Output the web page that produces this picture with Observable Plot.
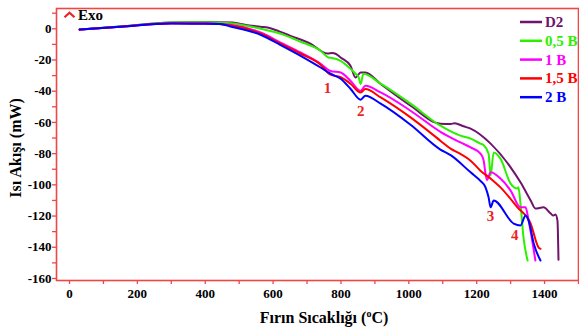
<!DOCTYPE html>
<html><head><meta charset="utf-8">
<script src="https://cdn.jsdelivr.net/npm/d3@7"></script>
<script src="https://cdn.jsdelivr.net/npm/@observablehq/plot@0.6"></script>
<style>
body{margin:0;background:#fff}
#chart{position:relative;width:579px;height:328px}
</style>
</head><body><div id="chart"></div>
<script>
const seriesNames = ["D2", "0,5 B", "1 B", "1,5 B", "2 B"];
const seriesColors = ["#6e136e", "#2cf000", "#ff00ff", "#ff0000", "#0000ff"];

const tempD2 = [30,150,300,400,480,520,563,592,622,651,710,760,775,784,799,828,843,858,872,917,1005,1093,1123,1135,1161,1182,1241,1300,1329,1359,1373,1397,1418,1426,1432,1438,1441];
const flowD2 = [-0.5,1.5,4,4.3,4,2.5,1.3,0.4,-2,-4.5,-9.6,-15.8,-15.5,-16,-18.4,-23.7,-31.2,-28,-28,-35.4,-49.3,-60.8,-61,-60.5,-62.5,-64,-73.6,-88.8,-98.4,-110,-115.2,-114.4,-118.4,-119.7,-119,-122.9,-148];

const temp05B = [30,150,300,400,475,563,622,681,740,763,770,799,828,843,852,858,866,917,1005,1093,1152,1182,1211,1220,1235,1241,1250,1270,1300,1320,1323,1329,1338,1350];
const flow05B = [-0.5,1.5,4,4.2,3.6,0,-3.2,-8.3,-14.1,-18.4,-18.6,-20.5,-25.6,-28.8,-31,-35.4,-28.8,-35.2,-48,-62.1,-68.5,-70.4,-73.6,-74.5,-80,-94,-79.2,-83.2,-99.2,-102.4,-101.6,-112,-133.8,-148.5];

const temp1B = [30,150,300,400,474,563,622,681,740,769,799,828,858,872,917,1005,1093,1152,1182,1211,1220,1230,1241,1270,1300,1329,1344,1353,1365,1373];
const flow1B = [-0.5,1.3,3.6,3.6,2.6,-2.4,-8.8,-15.2,-22.4,-27,-28,-33.3,-39.7,-36.5,-40.8,-52.5,-66,-72.8,-76,-80,-84,-97,-92,-96,-103.7,-114.4,-114.4,-122.9,-137.6,-148.5];

const temp15B = [30,150,300,400,474,563,622,681,740,769,799,828,858,872,917,1005,1093,1123,1152,1182,1211,1241,1270,1320,1359,1382,1388];
const flow15B = [-0.5,1.3,3.6,3.4,2.2,-3,-9.5,-16,-23,-29.4,-31,-35.2,-40.8,-38.6,-44,-56.8,-71.7,-76.8,-80.2,-84.5,-90.9,-96,-101.6,-114.4,-124.8,-140,-141];

const temp2B = [30,150,300,380,445,474,563,622,681,740,769,799,828,858,872,917,1005,1093,1123,1182,1211,1226,1235,1241,1250,1309,1329,1344,1353,1368,1388];
const flow2B = [-0.5,1.3,3.4,3.2,3.0,1.5,-3.8,-10.4,-17.3,-24.8,-28.8,-32,-38.4,-45.4,-42.9,-48,-61.5,-77.4,-81,-92,-97.5,-101.6,-108,-114.4,-110,-124.8,-126,-119.7,-122.9,-137.6,-148.5];

const xTicks = [0,100,200,300,400,500,600,700,800,900,1000,1100,1200,1300,1400,1500];
const xTickLabels = [0,200,400,600,800,1000,1200,1400];
const yTicks = [-160,-150,-140,-130,-120,-110,-100,-90,-80,-70,-60,-50,-40,-30,-20,-10,0,10];
const yTickLabels = [-160,-140,-120,-100,-80,-60,-40,-20,0];

const annoLabels = ["1","2","3","4"];
const annoTemp = [760, 858, 1241, 1312];
const annoFlow = [-37.8, -52.5, -120, -132.5];

const temps = [tempD2, temp05B, temp1B, temp15B, temp2B];
const flows = [flowD2, flow05B, flow1B, flow15B, flow2B];
const rows = [];
seriesNames.forEach((s, i) => temps[i].forEach((t, j) => rows.push({series: s, temp: t, flow: flows[i][j]})));
const annos = annoLabels.map((l, i) => ({label: l, temp: annoTemp[i], flow: annoFlow[i]}));

const frameColor = "#f04646";
const font = "'Liberation Serif', 'Times New Roman', serif";

const svg = Plot.plot({
  width: 579, height: 328,
  marginLeft: 56, marginRight: 1, marginTop: 8, marginBottom: 48,
  x: {domain: [-38.3, 1500]},
  y: {domain: [-161.3, 13]},
  color: {domain: seriesNames, range: seriesColors},
  style: {fontFamily: font, fontWeight: "bold", fontSize: "13px", color: "black", background: "white"},
  marks: [
    Plot.axisX({ticks: xTicks, tickFormat: d => xTickLabels.includes(d) ? String(d) : "", tickSize: 4, tickPadding: 4, stroke: frameColor, fill: "black", strokeWidth: 1.3, label: null}),
    Plot.axisY({ticks: yTicks, tickFormat: d => yTickLabels.includes(d) ? String(d) : "", tickSize: 4, tickPadding: 1, stroke: frameColor, fill: "black", strokeWidth: 1.3, label: null}),
    Plot.line(rows, {x: "temp", y: "flow", z: "series", stroke: "series", strokeWidth: 2, curve: "monotone-x"}),
    Plot.frame({stroke: frameColor, strokeWidth: 1.6}),
    Plot.text(annos, {x: "temp", y: "flow", text: "label", fill: "#ee2222", fontSize: 15, fontWeight: "bold", textAnchor: "middle", lineAnchor: "middle"})
  ]
});
document.getElementById("chart").appendChild(svg);

const s = d3.select(svg);
// axis titles
const xt = s.append("text").attr("x", 324).attr("y", 323).attr("text-anchor", "middle")
  .attr("font-family", font).attr("font-weight", "bold").attr("font-size", 16).attr("fill", "black");
xt.append("tspan").text("Fırın Sıcaklığı (");
xt.append("tspan").attr("font-size", 10).attr("dy", -6).text("o");
xt.append("tspan").attr("dy", 6).text("C)");
s.append("text").attr("transform", "translate(21,148) rotate(-90)").attr("text-anchor", "middle")
  .attr("font-family", font).attr("font-weight", "bold").attr("font-size", 16).attr("fill", "black")
  .text("Isı Akışı (mW)");
// Exo marker
s.append("path").attr("d", "M64.5,17.3L69.5,12.7L74.5,17.3").attr("fill", "none").attr("stroke", "#ee2222").attr("stroke-width", 2.2);
s.append("text").attr("x", 78).attr("y", 20).attr("text-anchor", "start").attr("font-family", font).attr("font-weight", "bold").attr("font-size", 15).attr("fill", "black").text("Exo");
// legend
const lg = s.append("g");
seriesNames.forEach((n, i) => {
  const y = 22 + i * 18.8;
  lg.append("line").attr("x1", 520).attr("x2", 542).attr("y1", y).attr("y2", y).attr("stroke", seriesColors[i]).attr("stroke-width", 2.5);
  lg.append("text").attr("x", 545).attr("y", y + 5).attr("text-anchor", "start").attr("font-family", font).attr("font-weight", "bold").attr("font-size", 15).attr("fill", seriesColors[i]).text(n);
});
</script>
</body></html>
